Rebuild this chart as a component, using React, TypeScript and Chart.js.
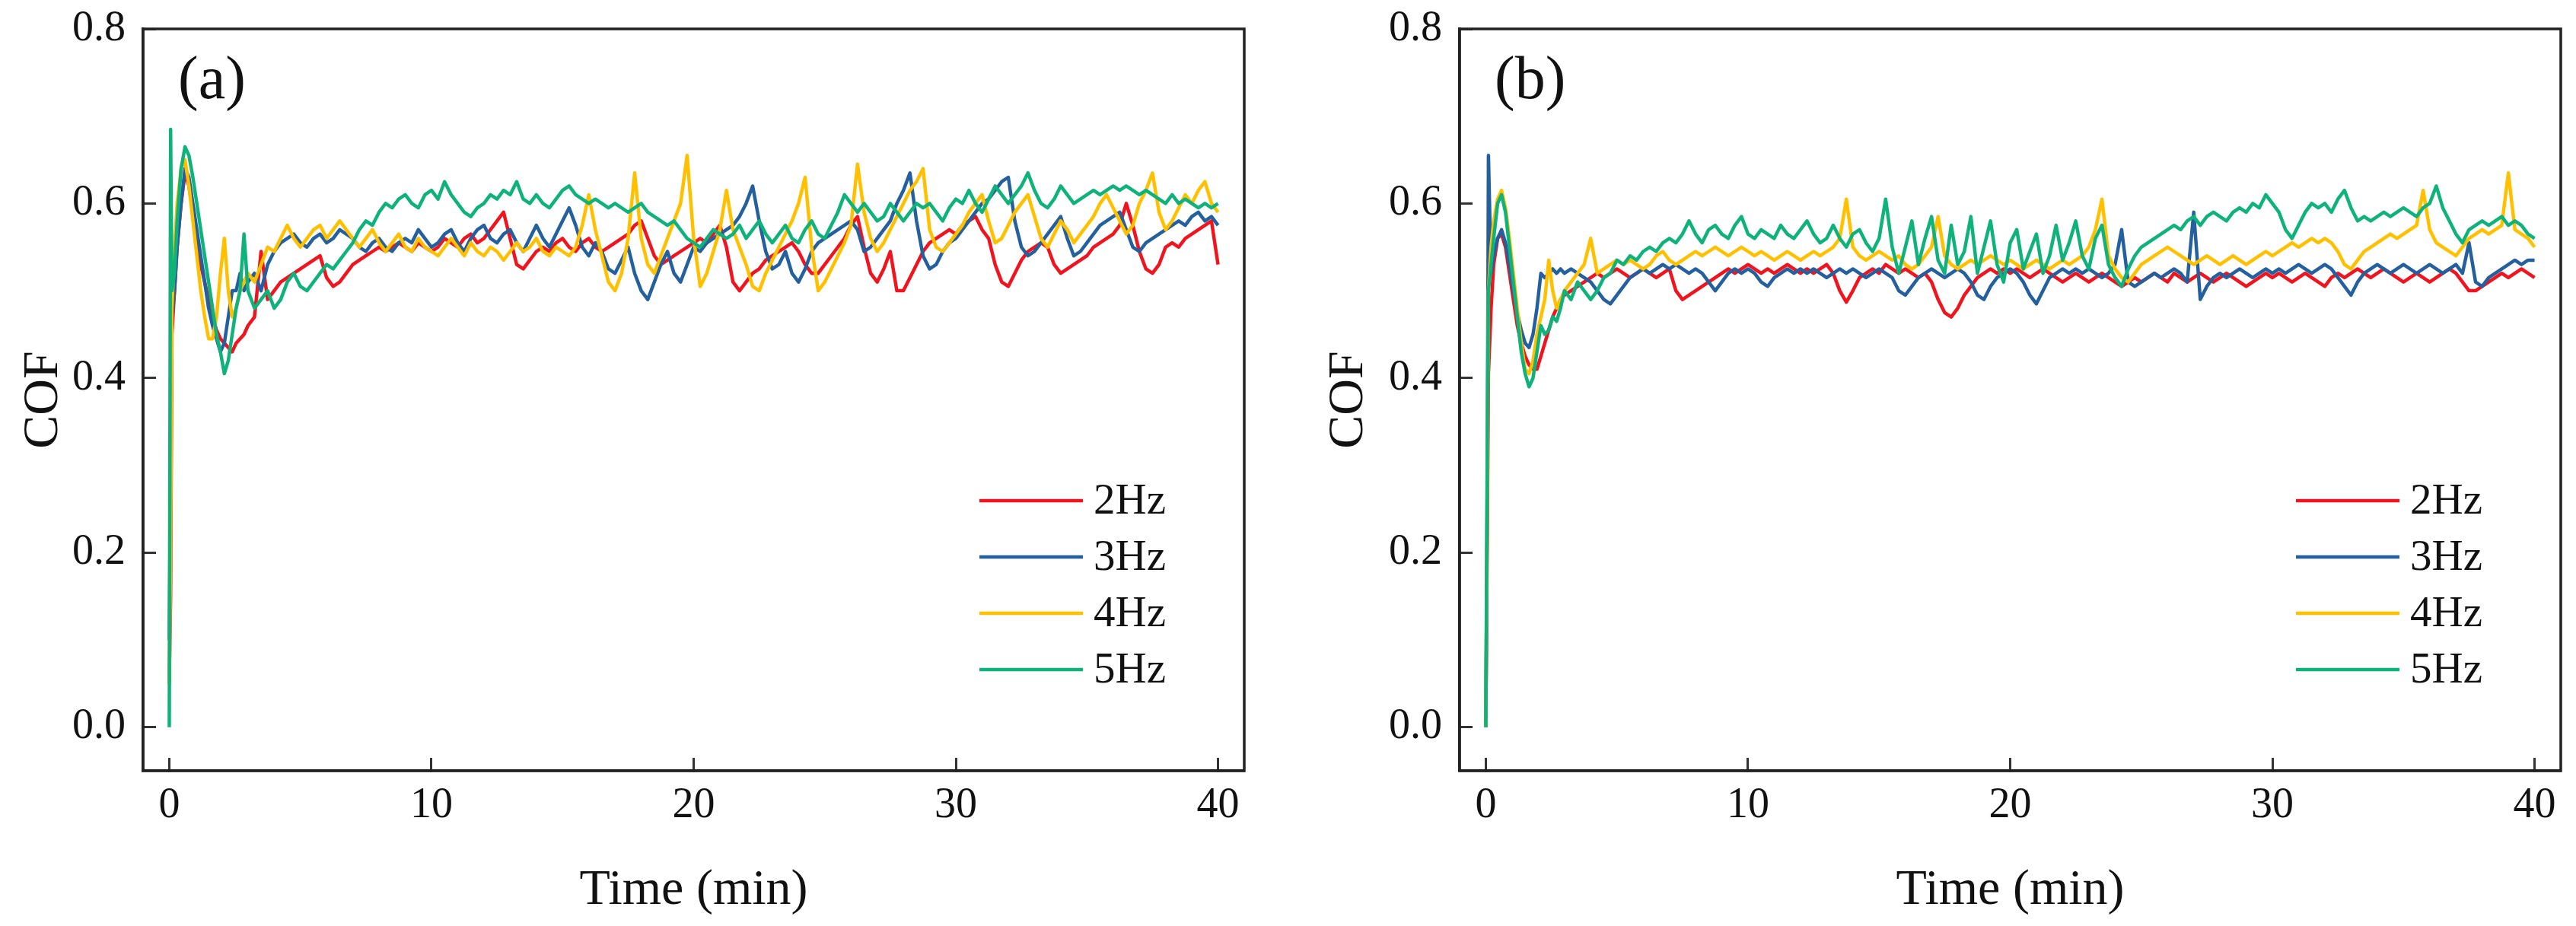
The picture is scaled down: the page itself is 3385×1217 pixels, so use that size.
import React, { useEffect, useRef } from "react";
import { Chart, registerables } from "chart.js";

Chart.register(...registerables);

// ---------- data ----------
const timeMin = [
  0, 0.05, 0.1, 0.2, 0.3, 0.45, 0.6, 0.75, 0.9, 1.05, 1.2, 1.35, 1.5, 1.65, 1.8, 1.95, 2.1, 2.25, 2.4, 2.55, 2.7, 2.85,
  3, 3.25, 3.5, 3.75, 4, 4.25, 4.5, 4.75, 5, 5.25, 5.5, 5.75, 6, 6.25, 6.5, 6.75, 7, 7.25, 7.5, 7.75, 8, 8.25, 8.5, 8.75, 9, 9.25, 9.5, 9.75,
  10, 10.25, 10.5, 10.75, 11, 11.25, 11.5, 11.75, 12, 12.25, 12.5, 12.75, 13, 13.25, 13.5, 13.75, 14, 14.25, 14.5, 14.75,
  15, 15.25, 15.5, 15.75, 16, 16.25, 16.5, 16.75, 17, 17.25, 17.5, 17.75, 18, 18.25, 18.5, 18.75, 19, 19.25, 19.5, 19.75,
  20, 20.25, 20.5, 20.75, 21, 21.25, 21.5, 21.75, 22, 22.25, 22.5, 22.75, 23, 23.25, 23.5, 23.75, 24, 24.25, 24.5, 24.75,
  25, 25.25, 25.5, 25.75, 26, 26.25, 26.5, 26.75, 27, 27.25, 27.5, 27.75, 28, 28.25, 28.5, 28.75, 29, 29.25, 29.5, 29.75,
  30, 30.25, 30.5, 30.75, 31, 31.25, 31.5, 31.75, 32, 32.25, 32.5, 32.75, 33, 33.25, 33.5, 33.75, 34, 34.25, 34.5, 34.75,
  35, 35.25, 35.5, 35.75, 36, 36.25, 36.5, 36.75, 37, 37.25, 37.5, 37.75, 38, 38.25, 38.5, 38.75, 39, 39.25, 39.5, 39.75,
  40,
];

const seriesNames = ["2Hz", "3Hz", "4Hz", "5Hz"];
const seriesColors = ["#F0141E", "#25609E", "#FFC000", "#0FB27A"];
const xTicks = [0, 10, 20, 30, 40];
const yTicks = [0, 0.2, 0.4, 0.6, 0.8];
const panelLabels = ["(a)", "(b)"];

// Panel (a)
const cof2HzA = [
  0.05, 0.15, 0.45, 0.5, 0.55, 0.6, 0.635, 0.62, 0.59, 0.56, 0.53, 0.51, 0.49, 0.47, 0.455, 0.445, 0.44, 0.435, 0.43, 0.44, 0.445, 0.45,
  0.46, 0.47, 0.545, 0.49, 0.5, 0.51, 0.515, 0.52, 0.525, 0.53, 0.535, 0.54, 0.515, 0.505, 0.51, 0.52, 0.53, 0.535, 0.54, 0.545, 0.55, 0.545, 0.55, 0.555, 0.55, 0.545, 0.555, 0.55,
  0.545, 0.55, 0.56, 0.555, 0.55, 0.56, 0.565, 0.555, 0.56, 0.57, 0.58, 0.59, 0.56, 0.53, 0.525, 0.535, 0.545, 0.55, 0.545, 0.555,
  0.56, 0.55, 0.545, 0.555, 0.56, 0.55, 0.545, 0.55, 0.555, 0.56, 0.565, 0.575, 0.58, 0.56, 0.54, 0.53, 0.535, 0.54, 0.545, 0.55,
  0.555, 0.56, 0.555, 0.565, 0.575, 0.55, 0.51, 0.5, 0.51, 0.52, 0.525, 0.535, 0.54, 0.545, 0.55, 0.555, 0.545, 0.53, 0.52, 0.52,
  0.53, 0.54, 0.55, 0.56, 0.575, 0.585, 0.55, 0.52, 0.51, 0.525, 0.545, 0.5, 0.5, 0.515, 0.53, 0.545, 0.555, 0.56, 0.565, 0.57,
  0.565, 0.575, 0.58, 0.585, 0.57, 0.56, 0.53, 0.51, 0.505, 0.52, 0.535, 0.545, 0.55, 0.555, 0.55, 0.53, 0.52, 0.525, 0.53, 0.535,
  0.54, 0.55, 0.555, 0.56, 0.565, 0.575, 0.6, 0.575, 0.545, 0.525, 0.52, 0.53, 0.55, 0.555, 0.55, 0.56, 0.565, 0.57, 0.575, 0.58,
  0.53,
];
const cof3HzA = [
  0.1, 0.3, 0.47, 0.5, 0.55, 0.6, 0.64, 0.63, 0.6, 0.57, 0.54, 0.51, 0.48, 0.46, 0.445, 0.43, 0.44, 0.47, 0.5, 0.5, 0.52, 0.5,
  0.51, 0.52, 0.5, 0.53, 0.545, 0.555, 0.56, 0.565, 0.555, 0.55, 0.56, 0.565, 0.555, 0.56, 0.57, 0.565, 0.56, 0.55, 0.545, 0.555, 0.56, 0.55, 0.545, 0.555, 0.56, 0.555, 0.57, 0.56,
  0.55, 0.555, 0.565, 0.57, 0.555, 0.545, 0.56, 0.57, 0.575, 0.56, 0.555, 0.565, 0.57, 0.555, 0.545, 0.56, 0.575, 0.56, 0.55, 0.565,
  0.58, 0.595, 0.575, 0.55, 0.54, 0.555, 0.545, 0.525, 0.52, 0.535, 0.55, 0.52, 0.5, 0.49, 0.51, 0.53, 0.545, 0.52, 0.51, 0.53,
  0.55, 0.545, 0.555, 0.56, 0.565, 0.57, 0.575, 0.585, 0.6, 0.62, 0.58, 0.545, 0.525, 0.53, 0.545, 0.52, 0.51, 0.525, 0.545, 0.555,
  0.56, 0.565, 0.57, 0.575, 0.58, 0.57, 0.545, 0.55, 0.56, 0.57, 0.58, 0.6, 0.615, 0.635, 0.58, 0.54, 0.525, 0.53, 0.545, 0.555,
  0.56, 0.57, 0.58, 0.59, 0.6, 0.605, 0.615, 0.625, 0.63, 0.58, 0.55, 0.54, 0.545, 0.555, 0.565, 0.575, 0.585, 0.56, 0.54, 0.545,
  0.555, 0.565, 0.575, 0.58, 0.585, 0.59, 0.57, 0.55, 0.545, 0.555, 0.56, 0.565, 0.57, 0.575, 0.58, 0.575, 0.585, 0.59, 0.58, 0.585,
  0.575,
];
const cof4HzA = [
  0.05, 0.2, 0.48, 0.55, 0.6, 0.64, 0.65, 0.62, 0.58, 0.54, 0.5, 0.47, 0.445, 0.445, 0.47, 0.52, 0.56, 0.5, 0.47, 0.48, 0.5, 0.51,
  0.52, 0.51, 0.53, 0.55, 0.545, 0.56, 0.575, 0.56, 0.55, 0.56, 0.57, 0.575, 0.56, 0.57, 0.58, 0.57, 0.56, 0.55, 0.56, 0.57, 0.555, 0.545, 0.555, 0.565, 0.55, 0.545, 0.56, 0.55,
  0.545, 0.54, 0.55, 0.56, 0.55, 0.54, 0.555, 0.545, 0.54, 0.55, 0.545, 0.535, 0.545, 0.555, 0.545, 0.55, 0.56, 0.545, 0.54, 0.55,
  0.545, 0.54, 0.55, 0.575, 0.61, 0.57, 0.54, 0.51, 0.5, 0.52, 0.56, 0.635, 0.56, 0.53, 0.52, 0.54, 0.56, 0.58, 0.6, 0.655,
  0.56, 0.505, 0.52, 0.545, 0.57, 0.615, 0.57, 0.55, 0.53, 0.505, 0.5, 0.52, 0.535, 0.55, 0.565, 0.58, 0.6, 0.63, 0.55, 0.5,
  0.51, 0.525, 0.54, 0.555, 0.575, 0.645, 0.59, 0.56, 0.545, 0.555, 0.57, 0.585, 0.6, 0.615, 0.625, 0.64, 0.57, 0.55, 0.545, 0.555,
  0.565, 0.575, 0.59, 0.6, 0.61, 0.58, 0.555, 0.56, 0.575, 0.59, 0.6, 0.61, 0.585, 0.56, 0.55, 0.565, 0.58, 0.57, 0.555, 0.565,
  0.575, 0.585, 0.6, 0.61, 0.595, 0.58, 0.565, 0.575, 0.6, 0.615, 0.635, 0.59, 0.57, 0.58, 0.595, 0.61, 0.6, 0.615, 0.625, 0.6,
  0.59,
];
const cof5HzA = [
  0.0, 0.685, 0.5, 0.52, 0.58, 0.64, 0.665, 0.655, 0.63, 0.6, 0.57, 0.54, 0.51, 0.48, 0.45, 0.43, 0.405, 0.42, 0.45, 0.48, 0.5, 0.565,
  0.5, 0.48, 0.49, 0.5, 0.48, 0.49, 0.51, 0.52, 0.505, 0.5, 0.51, 0.52, 0.53, 0.525, 0.535, 0.545, 0.555, 0.57, 0.58, 0.575, 0.59, 0.6, 0.595, 0.605, 0.61, 0.6, 0.595, 0.61,
  0.615, 0.605, 0.625, 0.61, 0.6, 0.59, 0.585, 0.595, 0.6, 0.61, 0.605, 0.615, 0.61, 0.625, 0.605, 0.6, 0.61, 0.6, 0.595, 0.605,
  0.615, 0.62, 0.61, 0.605, 0.6, 0.605, 0.6, 0.595, 0.6, 0.595, 0.59, 0.595, 0.6, 0.59, 0.585, 0.58, 0.575, 0.58, 0.57, 0.56,
  0.555, 0.55, 0.56, 0.57, 0.565, 0.56, 0.565, 0.575, 0.56, 0.57, 0.58, 0.565, 0.555, 0.565, 0.575, 0.56, 0.555, 0.57, 0.58, 0.565,
  0.56, 0.575, 0.59, 0.61, 0.6, 0.59, 0.6, 0.59, 0.58, 0.585, 0.6, 0.59, 0.58, 0.59, 0.6, 0.595, 0.6, 0.59, 0.58, 0.595,
  0.605, 0.6, 0.615, 0.6, 0.59, 0.605, 0.62, 0.61, 0.6, 0.61, 0.62, 0.635, 0.615, 0.6, 0.595, 0.605, 0.62, 0.61, 0.6, 0.605,
  0.61, 0.615, 0.61, 0.615, 0.62, 0.615, 0.62, 0.615, 0.61, 0.615, 0.61, 0.605, 0.6, 0.61, 0.6, 0.605, 0.6, 0.595, 0.6, 0.595,
  0.6,
];

// Panel (b)
const cof2HzB = [
  0.0, 0.2, 0.405, 0.48, 0.53, 0.56, 0.565, 0.55, 0.52, 0.49, 0.46, 0.44, 0.425, 0.415, 0.41, 0.41, 0.425, 0.44, 0.455, 0.47, 0.48, 0.49,
  0.495, 0.5, 0.505, 0.51, 0.515, 0.52, 0.515, 0.52, 0.525, 0.52, 0.515, 0.52, 0.525, 0.52, 0.515, 0.52, 0.525, 0.5, 0.49, 0.495, 0.5, 0.505, 0.51, 0.515, 0.52, 0.525, 0.52, 0.525,
  0.53, 0.525, 0.52, 0.525, 0.52, 0.525, 0.53, 0.525, 0.52, 0.525, 0.52, 0.525, 0.53, 0.52, 0.5, 0.487, 0.5, 0.515, 0.52, 0.525,
  0.52, 0.53, 0.525, 0.52, 0.525, 0.52, 0.515, 0.52, 0.51, 0.49, 0.475, 0.47, 0.48, 0.495, 0.505, 0.515, 0.52, 0.525, 0.52, 0.525,
  0.52, 0.525, 0.52, 0.515, 0.52, 0.525, 0.52, 0.515, 0.51, 0.515, 0.52, 0.515, 0.51, 0.515, 0.52, 0.515, 0.51, 0.505, 0.51, 0.515,
  0.51, 0.515, 0.52, 0.515, 0.51, 0.52, 0.515, 0.51, 0.515, 0.52, 0.515, 0.51, 0.515, 0.52, 0.515, 0.51, 0.505, 0.51, 0.515, 0.52,
  0.515, 0.52, 0.515, 0.51, 0.515, 0.52, 0.515, 0.51, 0.505, 0.515, 0.52, 0.515, 0.52, 0.525, 0.52, 0.515, 0.52, 0.525, 0.52, 0.515,
  0.51, 0.515, 0.52, 0.515, 0.51, 0.515, 0.52, 0.525, 0.52, 0.51, 0.5, 0.5, 0.505, 0.51, 0.515, 0.52, 0.515, 0.52, 0.525, 0.52,
  0.515,
];
const cof3HzB = [
  0.0, 0.25, 0.655, 0.52, 0.54, 0.56, 0.57, 0.555, 0.53, 0.5, 0.475, 0.455, 0.44, 0.435, 0.45, 0.48, 0.52, 0.515, 0.52, 0.525, 0.52, 0.525,
  0.52, 0.525, 0.52, 0.515, 0.51, 0.5, 0.49, 0.485, 0.495, 0.505, 0.515, 0.52, 0.525, 0.52, 0.525, 0.53, 0.525, 0.53, 0.525, 0.52, 0.525, 0.52, 0.51, 0.5, 0.51, 0.52, 0.525, 0.52,
  0.525, 0.52, 0.51, 0.505, 0.515, 0.52, 0.525, 0.52, 0.525, 0.52, 0.525, 0.52, 0.515, 0.52, 0.525, 0.52, 0.525, 0.52, 0.515, 0.52,
  0.525, 0.52, 0.515, 0.5, 0.495, 0.505, 0.515, 0.52, 0.525, 0.52, 0.515, 0.52, 0.525, 0.52, 0.51, 0.495, 0.49, 0.505, 0.515, 0.52,
  0.525, 0.52, 0.51, 0.495, 0.485, 0.5, 0.515, 0.52, 0.525, 0.52, 0.525, 0.52, 0.525, 0.52, 0.515, 0.52, 0.53, 0.57, 0.51, 0.505,
  0.51, 0.515, 0.52, 0.515, 0.52, 0.525, 0.52, 0.51, 0.59, 0.49, 0.505, 0.515, 0.52, 0.515, 0.52, 0.525, 0.52, 0.515, 0.52, 0.525,
  0.52, 0.525, 0.52, 0.525, 0.53, 0.525, 0.52, 0.525, 0.53, 0.525, 0.515, 0.505, 0.495, 0.51, 0.52, 0.525, 0.53, 0.525, 0.52, 0.525,
  0.53, 0.525, 0.52, 0.525, 0.53, 0.525, 0.52, 0.525, 0.53, 0.52, 0.555, 0.51, 0.505, 0.515, 0.52, 0.525, 0.53, 0.535, 0.53, 0.535,
  0.535,
];
const cof4HzB = [
  0.0, 0.25, 0.5, 0.55, 0.58, 0.605, 0.615, 0.595, 0.56, 0.52, 0.48, 0.44, 0.41, 0.405, 0.42, 0.45, 0.47, 0.49, 0.535, 0.5, 0.48, 0.49,
  0.5, 0.51, 0.52, 0.53, 0.56, 0.52, 0.525, 0.53, 0.535, 0.53, 0.535, 0.53, 0.525, 0.53, 0.54, 0.545, 0.535, 0.53, 0.535, 0.54, 0.545, 0.54, 0.545, 0.55, 0.545, 0.54, 0.545, 0.55,
  0.545, 0.54, 0.545, 0.54, 0.535, 0.54, 0.545, 0.54, 0.535, 0.54, 0.545, 0.54, 0.545, 0.55, 0.56, 0.605, 0.55, 0.54, 0.535, 0.54,
  0.545, 0.54, 0.535, 0.54, 0.53, 0.525, 0.53, 0.54, 0.55, 0.585, 0.54, 0.53, 0.525, 0.53, 0.535, 0.53, 0.535, 0.54, 0.535, 0.53,
  0.535, 0.53, 0.525, 0.53, 0.535, 0.53, 0.525, 0.53, 0.535, 0.53, 0.535, 0.54, 0.55, 0.57, 0.605, 0.54, 0.525, 0.515, 0.51, 0.52,
  0.53, 0.535, 0.54, 0.545, 0.55, 0.545, 0.54, 0.535, 0.53, 0.535, 0.54, 0.535, 0.53, 0.535, 0.54, 0.535, 0.53, 0.535, 0.54, 0.545,
  0.54, 0.545, 0.55, 0.555, 0.55, 0.555, 0.56, 0.555, 0.56, 0.555, 0.545, 0.53, 0.525, 0.535, 0.545, 0.55, 0.555, 0.56, 0.565, 0.56,
  0.565, 0.57, 0.575, 0.615, 0.57, 0.555, 0.55, 0.545, 0.54, 0.55, 0.56, 0.565, 0.57, 0.565, 0.57, 0.575, 0.635, 0.57, 0.565, 0.56,
  0.55,
];
const cof5HzB = [
  0.0, 0.3, 0.5, 0.53, 0.56, 0.6, 0.61, 0.59, 0.55, 0.51, 0.47, 0.43, 0.405, 0.39, 0.4, 0.43, 0.46, 0.45, 0.455, 0.47, 0.465, 0.48,
  0.5, 0.49, 0.51, 0.5, 0.49, 0.5, 0.515, 0.52, 0.535, 0.53, 0.54, 0.535, 0.545, 0.55, 0.545, 0.555, 0.56, 0.555, 0.565, 0.58, 0.565, 0.555, 0.57, 0.575, 0.565, 0.56, 0.575, 0.585,
  0.565, 0.56, 0.57, 0.565, 0.56, 0.575, 0.565, 0.56, 0.57, 0.58, 0.565, 0.555, 0.56, 0.575, 0.56, 0.55, 0.565, 0.57, 0.555, 0.545,
  0.56, 0.605, 0.55, 0.52, 0.55, 0.58, 0.53, 0.56, 0.585, 0.535, 0.52, 0.575, 0.53, 0.545, 0.585, 0.52, 0.55, 0.58, 0.53, 0.51,
  0.555, 0.57, 0.525, 0.545, 0.565, 0.52, 0.54, 0.575, 0.535, 0.555, 0.58, 0.54, 0.525, 0.56, 0.575, 0.53, 0.515, 0.505, 0.525, 0.54,
  0.55, 0.555, 0.56, 0.565, 0.57, 0.575, 0.57, 0.58, 0.585, 0.575, 0.585, 0.59, 0.585, 0.58, 0.59, 0.595, 0.59, 0.6, 0.595, 0.61,
  0.6, 0.59, 0.57, 0.56, 0.575, 0.59, 0.6, 0.595, 0.6, 0.59, 0.605, 0.615, 0.595, 0.58, 0.585, 0.58, 0.585, 0.59, 0.585, 0.59,
  0.595, 0.59, 0.585, 0.595, 0.6, 0.62, 0.595, 0.58, 0.565, 0.555, 0.57, 0.575, 0.58, 0.575, 0.58, 0.585, 0.575, 0.58, 0.575, 0.565,
  0.56,
];

const seriesA = [cof2HzA, cof3HzA, cof4HzA, cof5HzA];
const seriesB = [cof2HzB, cof3HzB, cof4HzB, cof5HzB];

// ---------- drawing ----------
const FONT = "'Liberation Serif', 'Times New Roman', Times, serif";
const CANVAS_H = 1217;

type PanelCfg = {
  left: number;
  width: number;
  yAxisWidth: number;
  rightPad: number;
  yTitlePad: number;
  label: string;
  series: number[][];
};

const panels: PanelCfg[] = [
  { left: 0, width: 1690, yAxisWidth: 188, rightPad: 55, yTitlePad: 18, label: panelLabels[0], series: seriesA },
  { left: 1690, width: 1695, yAxisWidth: 228, rightPad: 20, yTitlePad: 43, label: panelLabels[1], series: seriesB },
];

const framePlugin = {
  id: "frame",
  afterDatasetsDraw(chart: any) {
    const { ctx, chartArea: a } = chart;
    ctx.save();
    ctx.strokeStyle = "#222";
    ctx.lineWidth = 3.5;
    ctx.strokeRect(a.left, a.top, a.right - a.left, a.bottom - a.top);
    ctx.restore();
  },
};

function makeDecorPlugin(label: string) {
  return {
    id: "decor",
    afterDraw(chart: any) {
      const { ctx, chartArea: a } = chart;
      ctx.save();
      // panel label
      ctx.fillStyle = "#111";
      ctx.font = `80px ${FONT}`;
      ctx.textAlign = "left";
      ctx.textBaseline = "middle";
      ctx.fillText(label, a.left + 46, a.top + 70);
      // legend
      const rowOffsets = [355, 281, 207, 133];
      chart.data.datasets.forEach((ds: any, i: number) => {
        const y = a.bottom - rowOffsets[i];
        ctx.strokeStyle = ds.borderColor;
        ctx.lineWidth = 4.5;
        ctx.beginPath();
        ctx.moveTo(a.right - 348, y);
        ctx.lineTo(a.right - 212, y);
        ctx.stroke();
        ctx.fillStyle = "#111";
        ctx.font = `57px ${FONT}`;
        ctx.textAlign = "left";
        ctx.textBaseline = "middle";
        ctx.fillText(ds.label, a.right - 198, y + 2);
      });
      ctx.restore();
    },
  };
}

function Panel({ cfg }: { cfg: PanelCfg }) {
  const ref = useRef<HTMLCanvasElement>(null);
  useEffect(() => {
    const canvas = ref.current;
    if (!canvas) return;
    const chart = new Chart(canvas, {
      type: "line",
      data: {
        datasets: cfg.series.map((s, i) => ({
          label: seriesNames[i],
          data: timeMin.map((t, j) => ({ x: t, y: s[j] })),
          borderColor: seriesColors[i],
          backgroundColor: seriesColors[i],
          borderWidth: 4.5,
          pointRadius: 0,
          tension: 0,
          fill: false,
          order: 3 - i,
          borderJoinStyle: "round",
        })),
      },
      options: {
        responsive: false,
        animation: false,
        devicePixelRatio: 1,
        events: [],
        layout: { padding: { left: 0, top: 38, right: cfg.rightPad, bottom: 0 } },
        plugins: { legend: { display: false }, tooltip: { enabled: false }, title: { display: false } },
        scales: {
          x: {
            type: "linear",
            min: -1,
            max: 41,
            afterBuildTicks: (s: any) => {
              s.ticks = xTicks.map((v) => ({ value: v }));
            },
            afterFit: (s: any) => {
              s.height = 204;
              s.paddingLeft = 0;
              s.paddingRight = 0;
            },
            grid: { drawOnChartArea: false, drawTicks: true, tickLength: -17, tickWidth: 3, tickColor: "#333" },
            border: { display: true, color: "#222", width: 3.5 },
            ticks: {
              font: { family: FONT, size: 56 },
              color: "#111",
              padding: 30,
              maxRotation: 0,
              autoSkip: false,
              callback: (v: any) => String(v),
            },
            title: {
              display: true,
              text: "Time (min)",
              font: { family: FONT, size: 66 },
              color: "#111",
              padding: { top: 0, bottom: 7 },
            },
          },
          y: {
            type: "linear",
            min: -0.05,
            max: 0.8,
            afterBuildTicks: (s: any) => {
              s.ticks = yTicks.map((v) => ({ value: v }));
            },
            afterFit: (s: any) => {
              s.width = cfg.yAxisWidth;
              s.paddingTop = 0;
              s.paddingBottom = 0;
            },
            grid: { drawOnChartArea: false, drawTicks: true, tickLength: -17, tickWidth: 3, tickColor: "#333" },
            border: { display: true, color: "#222", width: 3.5 },
            ticks: {
              font: { family: FONT, size: 56 },
              color: "#111",
              padding: 40,
              autoSkip: false,
              callback: (v: any) => Number(v).toFixed(1),
            },
            title: {
              display: true,
              text: "COF",
              font: { family: FONT, size: 66 },
              color: "#111",
              padding: { top: cfg.yTitlePad, bottom: 0 },
            },
          },
        },
      } as any,
      plugins: [framePlugin, makeDecorPlugin(cfg.label)],
    });
    return () => chart.destroy();
  }, [cfg]);
  return (
    <canvas
      ref={ref}
      width={cfg.width}
      height={CANVAS_H}
      style={{ position: "absolute", left: cfg.left, top: 0, width: cfg.width, height: CANVAS_H, display: "block" }}
    />
  );
}

export default function App() {
  return (
    <div style={{ position: "absolute", left: 0, top: 0, width: 3385, height: CANVAS_H, background: "#fff", overflow: "hidden" }}>
      {panels.map((p, i) => (
        <Panel key={i} cfg={p} />
      ))}
    </div>
  );
}
